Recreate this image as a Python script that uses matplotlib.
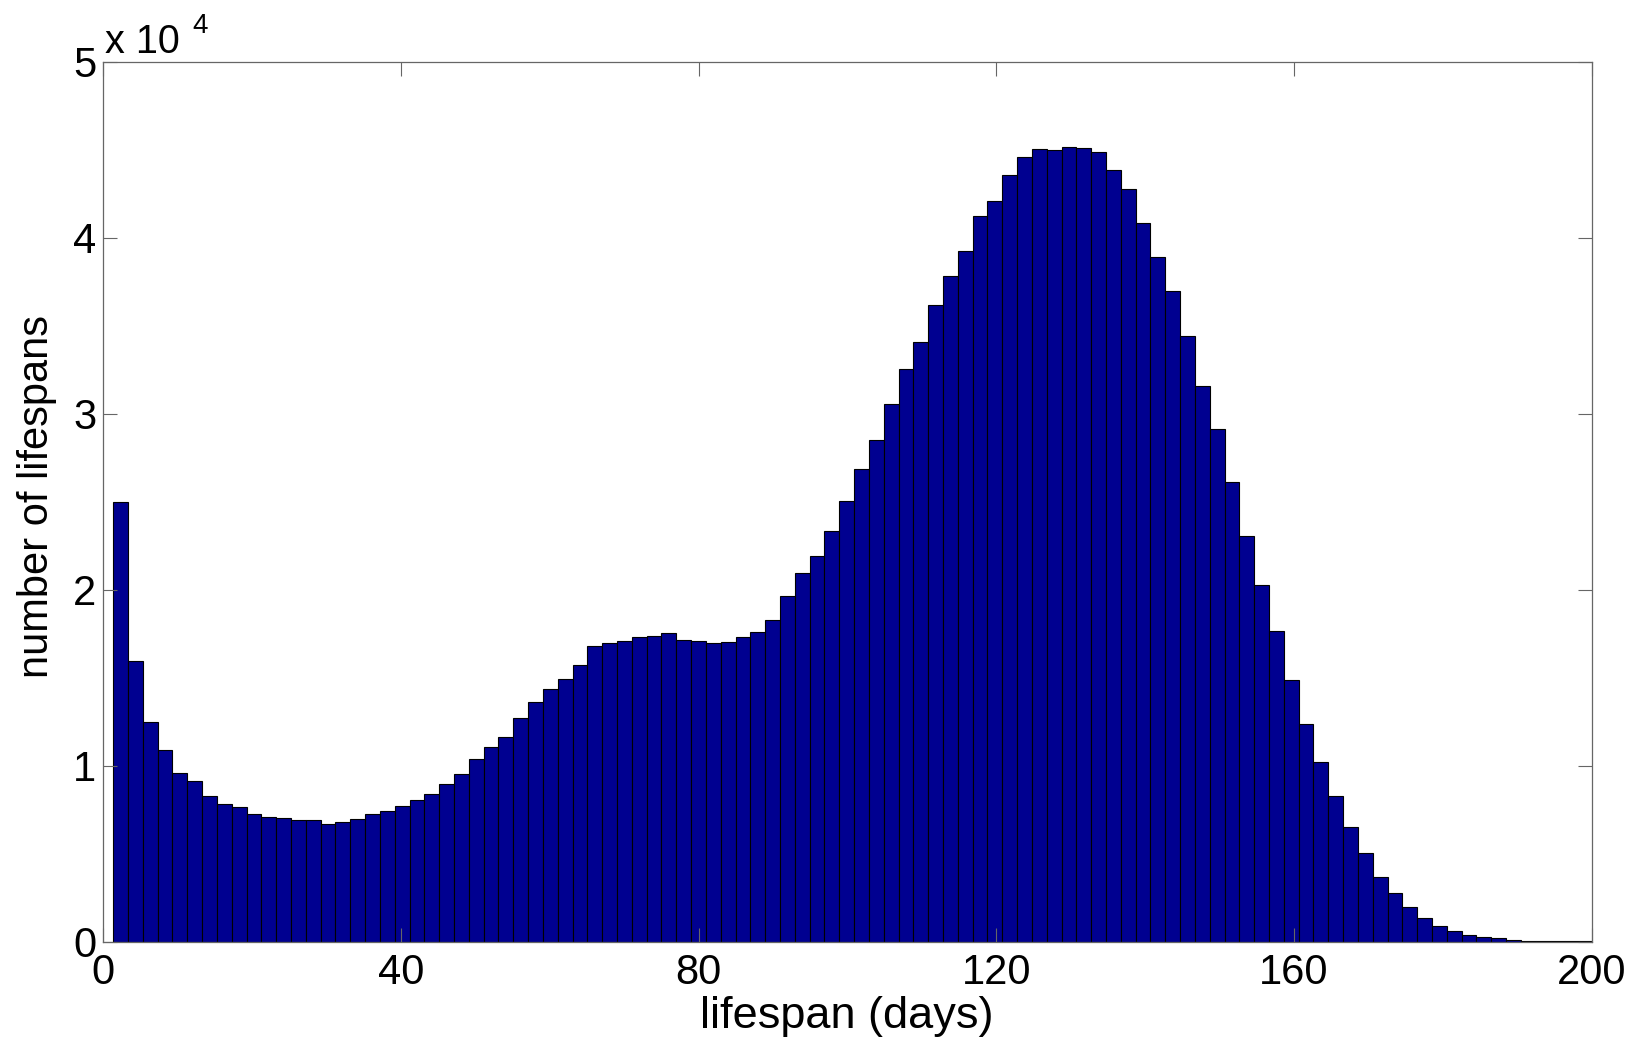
import matplotlib
matplotlib.use("Agg")
from matplotlib import pyplot as plt
import numpy as np

plt.rcParams['font.family'] = ['Liberation Sans', 'DejaVu Sans']

# histogram of lifespans, 100 bins (MATLAB style hist)
bin_start = 1.34
bin_width = 1.991
counts = [25000, 15960, 12490, 10870, 9580, 9130, 8290, 7840, 7630, 7230,
          7100, 7020, 6930, 6890, 6700, 6810, 6980, 7270, 7400, 7700,
          8030, 8370, 8990, 9540, 10360, 11060, 11650, 12730, 13640, 14360,
          14910, 15730, 16790, 16980, 17080, 17290, 17360, 17550, 17130, 17100,
          17000, 17040, 17290, 17610, 18270, 19620, 20950, 21940, 23360, 25070,
          26880, 28490, 30540, 32540, 34060, 36170, 37830, 39260, 41220, 42070,
          43570, 44600, 45040, 45020, 45170, 45090, 44900, 43840, 42760, 40850,
          38900, 36980, 34400, 31570, 29120, 26150, 23040, 20280, 17650, 14870,
          12390, 10220, 8260, 6520, 5040, 3690, 2760, 1980, 1330, 910,
          590, 380, 250, 190, 110, 60, 30, 20, 10, 10]

xticks = [0, 40, 80, 120, 160, 200]
yticks = [0, 10000, 20000, 30000, 40000, 50000]
ytick_labels = ['0', '1', '2', '3', '4', '5']

fig = plt.figure(figsize=(16.44, 10.38), dpi=100)
ax = fig.add_axes([0.0628, 0.0928, 0.9054, 0.8475])

lefts = bin_start + bin_width * np.arange(len(counts))
ax.bar(lefts, counts, width=bin_width, align='edge', color='#000090',
       edgecolor='black', linewidth=0.8)

ax.set_xlim(0, 200)
ax.set_ylim(0, 50000)
ax.set_xticks(xticks)
ax.set_xticklabels([str(t) for t in xticks])
ax.set_yticks(yticks)
ax.set_yticklabels(ytick_labels)

ax.tick_params(direction='in', length=10, width=0.8, color='0.4',
               top=True, right=True, labelsize=30)
ax.tick_params(axis='x', pad=8)
ax.tick_params(axis='y', pad=5)
for s in ax.spines.values():
    s.set_color('0.4')
    s.set_linewidth(0.9)

ax.set_xlabel('lifespan (days)', fontsize=32.5, va='center', ha='center')
ax.xaxis.set_label_coords(0.4993, -0.0847)
ax.set_ylabel('number of lifespans', fontsize=30, va='center', ha='center')
ax.yaxis.set_label_coords(-0.0445, 0.506)

# exponent label like MATLAB
fig.text(0.0639, 0.9492, 'x 10', fontsize=28.5, va='baseline', ha='left')
fig.text(0.1168, 0.9682, '4', fontsize=20, va='baseline', ha='left')

plt.savefig('out.png', dpi=100)
